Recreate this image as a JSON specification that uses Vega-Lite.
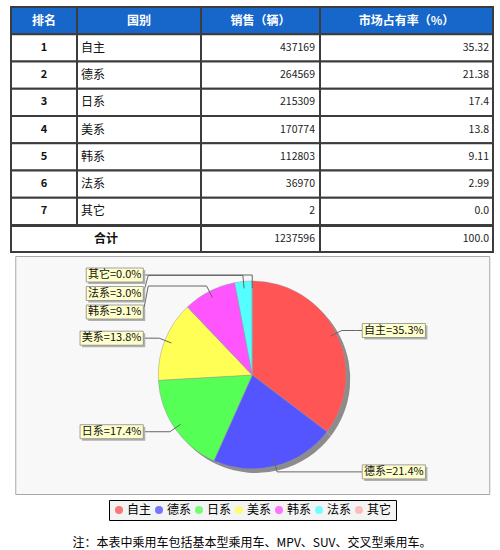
{
  "$schema": "https://vega.github.io/schema/vega-lite/v6.json",
  "background": "#ffffff",
  "padding": {"left": 10, "top": 6, "right": 8, "bottom": 0},
  "title": {
    "text": "注：本表中乘用车包括基本型乘用车、MPV、SUV、交叉型乘用车。",
    "orient": "bottom",
    "anchor": "middle",
    "offset": 17,
    "font": "Noto Sans CJK SC",
    "fontSize": 12,
    "fontWeight": "normal",
    "color": "#000"
  },
  "datasets": {
    "rows": [
      {"rank": 1, "name": "自主", "sales": 437169, "share": "35.32"},
      {"rank": 2, "name": "德系", "sales": 264569, "share": "21.38"},
      {"rank": 3, "name": "日系", "sales": 215309, "share": "17.4"},
      {"rank": 4, "name": "美系", "sales": 170774, "share": "13.8"},
      {"rank": 5, "name": "韩系", "sales": 112803, "share": "9.11"},
      {"rank": 6, "name": "法系", "sales": 36970, "share": "2.99"},
      {"rank": 7, "name": "其它", "sales": 2, "share": "0.0"}
    ]
  },
  "spacing": 2,
  "center": true,
  "vconcat": [
    {
      "spacing": -2,
      "vconcat": [
        {
          "spacing": 0,
          "bounds": "flush",
          "data": {"name": "rows"},
          "hconcat": [
            {
              "width": 66,
              "height": 218,
              "encoding": {"y": {"field": "rank", "type": "ordinal", "scale": {"domain": [0, 1, 2, 3, 4, 5, 6, 7], "paddingInner": 0, "paddingOuter": 0}, "axis": null}},
              "layer": [
                {
                  "data": {"values": [{"head": "排名"}]},
                  "encoding": {"y": {"datum": 0, "type": "ordinal"}},
                  "layer": [
                    {"mark": {"type": "rect", "fill": "#1766c9", "stroke": "#3c3c3c", "strokeWidth": 2}},
                    {"mark": {"type": "text", "color": "#fff", "fontWeight": "bold", "fontSize": 12}, "encoding": {"text": {"field": "head", "type": "nominal"}}}
                  ]
                },
                {"mark": {"type": "rect", "fill": "#fff", "stroke": "#3c3c3c", "strokeWidth": 2}},
                {"mark": {"type": "text", "fontWeight": "bold", "fontSize": 11, "color": "#111"}, "encoding": {"text": {"field": "rank", "type": "nominal"}}}
              ]
            },
            {
              "width": 124,
              "height": 218,
              "encoding": {"y": {"field": "rank", "type": "ordinal", "scale": {"domain": [0, 1, 2, 3, 4, 5, 6, 7], "paddingInner": 0, "paddingOuter": 0}, "axis": null}},
              "layer": [
                {
                  "data": {"values": [{"head": "国别"}]},
                  "encoding": {"y": {"datum": 0, "type": "ordinal"}},
                  "layer": [
                    {"mark": {"type": "rect", "fill": "#1766c9", "stroke": "#3c3c3c", "strokeWidth": 2}},
                    {"mark": {"type": "text", "color": "#fff", "fontWeight": "bold", "fontSize": 12}, "encoding": {"text": {"field": "head", "type": "nominal"}}}
                  ]
                },
                {"mark": {"type": "rect", "fill": "#fff", "stroke": "#3c3c3c", "strokeWidth": 2}},
                {
                  "mark": {"type": "text", "align": "left", "dx": 4, "fontSize": 12, "color": "#111"},
                  "encoding": {
                    "x": {"datum": 0, "type": "quantitative", "scale": {"domain": [0, 1]}, "axis": null},
                    "text": {"field": "name", "type": "nominal"}
                  }
                }
              ]
            },
            {
              "width": 119,
              "height": 218,
              "encoding": {"y": {"field": "rank", "type": "ordinal", "scale": {"domain": [0, 1, 2, 3, 4, 5, 6, 7], "paddingInner": 0, "paddingOuter": 0}, "axis": null}},
              "layer": [
                {
                  "data": {"values": [{"head": "销售（辆）"}]},
                  "encoding": {"y": {"datum": 0, "type": "ordinal"}},
                  "layer": [
                    {"mark": {"type": "rect", "fill": "#1766c9", "stroke": "#3c3c3c", "strokeWidth": 2}},
                    {"mark": {"type": "text", "color": "#fff", "fontWeight": "bold", "fontSize": 12}, "encoding": {"text": {"field": "head", "type": "nominal"}}}
                  ]
                },
                {"mark": {"type": "rect", "fill": "#fff", "stroke": "#3c3c3c", "strokeWidth": 2}},
                {
                  "mark": {"type": "text", "align": "right", "dx": -5, "fontSize": 10.5, "color": "#222"},
                  "encoding": {
                    "x": {"datum": 1, "type": "quantitative", "scale": {"domain": [0, 1]}, "axis": null},
                    "text": {"field": "sales", "type": "quantitative", "format": "d"}
                  }
                }
              ]
            },
            {
              "width": 173,
              "height": 218,
              "encoding": {"y": {"field": "rank", "type": "ordinal", "scale": {"domain": [0, 1, 2, 3, 4, 5, 6, 7], "paddingInner": 0, "paddingOuter": 0}, "axis": null}},
              "layer": [
                {
                  "data": {"values": [{"head": "市场占有率（%）"}]},
                  "encoding": {"y": {"datum": 0, "type": "ordinal"}},
                  "layer": [
                    {"mark": {"type": "rect", "fill": "#1766c9", "stroke": "#3c3c3c", "strokeWidth": 2}},
                    {"mark": {"type": "text", "color": "#fff", "fontWeight": "bold", "fontSize": 12}, "encoding": {"text": {"field": "head", "type": "nominal"}}}
                  ]
                },
                {"mark": {"type": "rect", "fill": "#fff", "stroke": "#3c3c3c", "strokeWidth": 2}},
                {
                  "mark": {"type": "text", "align": "right", "dx": -4, "fontSize": 10.5, "color": "#222"},
                  "encoding": {
                    "x": {"datum": 1, "type": "quantitative", "scale": {"domain": [0, 1]}, "axis": null},
                    "text": {"field": "share", "type": "nominal"}
                  }
                }
              ]
            }
          ]
        },
        {
          "spacing": 0,
          "bounds": "flush",
          "data": {"name": "rows"},
          "transform": [
            {"calculate": "toNumber(datum.share)", "as": "shareNum"},
            {"aggregate": [
              {"op": "sum", "field": "sales", "as": "totalSales"},
              {"op": "sum", "field": "shareNum", "as": "totalShare"}
            ]}
          ],
          "hconcat": [
            {
              "width": 190,
              "height": 26,
              "layer": [
                {"mark": {"type": "rect", "fill": "#fff", "stroke": "#3c3c3c", "strokeWidth": 2}},
                {"mark": {"type": "text", "text": "合计", "fontWeight": "bold", "fontSize": 12, "color": "#111"}}
              ]
            },
            {
              "width": 119,
              "height": 26,
              "layer": [
                {"mark": {"type": "rect", "fill": "#fff", "stroke": "#3c3c3c", "strokeWidth": 2}},
                {
                  "mark": {"type": "text", "align": "right", "dx": -5, "fontSize": 10.5, "color": "#222"},
                  "encoding": {
                    "x": {"datum": 1, "type": "quantitative", "scale": {"domain": [0, 1]}, "axis": null},
                    "text": {"field": "totalSales", "type": "quantitative", "format": "d"}
                  }
                }
              ]
            },
            {
              "width": 173,
              "height": 26,
              "layer": [
                {"mark": {"type": "rect", "fill": "#fff", "stroke": "#3c3c3c", "strokeWidth": 2}},
                {
                  "mark": {"type": "text", "align": "right", "dx": -4, "fontSize": 10.5, "color": "#222"},
                  "encoding": {
                    "x": {"datum": 1, "type": "quantitative", "scale": {"domain": [0, 1]}, "axis": null},
                    "text": {"field": "totalShare", "type": "quantitative", "format": ".1f"}
                  }
                }
              ]
            }
          ]
        }
      ]
    },
    {
      "width": 474,
      "height": 238,
      "view": {"fill": "#f8f8f8", "stroke": "#a8a8a8", "strokeWidth": 1},
      "data": {"name": "rows"},
      "transform": [
        {"joinaggregate": [{"op": "sum", "field": "sales", "as": "total"}]},
        {"window": [{"op": "sum", "field": "sales", "as": "cum"}], "sort": [{"field": "rank"}], "frame": [null, 0]},
        {"calculate": "2 * PI * (datum.cum - datum.sales / 2) / datum.total", "as": "mid"},
        {"calculate": "datum.mid > PI ? 'L' : 'R'", "as": "side"},
        {"calculate": "datum.side == 'L' ? -datum.mid : datum.mid", "as": "ord"},
        {"calculate": "datum.name + '=' + format(datum.sales / datum.total, '.1%')", "as": "label"},
        {"calculate": "100 * cos(datum.mid)", "as": "ey"},
        {"calculate": "100 * sin(datum.mid)", "as": "ex"},
        {"calculate": "87 * cos(datum.mid)", "as": "ay"},
        {"calculate": "87 * sin(datum.mid)", "as": "ax"},
        {"window": [{"op": "row_number", "as": "idx"}], "groupby": ["side"], "sort": [{"field": "ord"}]},
        {"calculate": "datum.ey + 18.5 * datum.idx", "as": "w"},
        {"window": [{"op": "min", "field": "w", "as": "z"}], "groupby": ["side"], "sort": [{"field": "ord"}], "frame": [null, 0]},
        {"calculate": "datum.z - 18.5 * datum.idx", "as": "ly"},
        {"calculate": "26 + 6.2 * (length(datum.label) - 2)", "as": "bw"},
        {"calculate": "datum.side == 'L' ? -109 : 110", "as": "edge"},
        {"calculate": "datum.side == 'L' ? -104 : 104", "as": "px"},
        {"calculate": "datum.side == 'L' ? datum.edge - datum.bw : datum.edge + datum.bw", "as": "far"},
        {"calculate": "(datum.edge + datum.far) / 2", "as": "bx"},
        {"calculate": "datum.ly + 7", "as": "btop"},
        {"calculate": "datum.ly - 7", "as": "bbot"}
      ],
      "layer": [
        {
          "mark": {"type": "arc", "outerRadius": 94, "fill": "#8c8c8c", "xOffset": 4, "yOffset": 4},
          "encoding": {
            "theta": {"field": "sales", "type": "quantitative", "stack": true},
            "order": {"field": "rank", "type": "quantitative"}
          }
        },
        {
          "mark": {"type": "arc", "outerRadius": 94, "stroke": "#999", "strokeWidth": 0.5},
          "encoding": {
            "theta": {"field": "sales", "type": "quantitative", "stack": true},
            "order": {"field": "rank", "type": "quantitative"},
            "color": {
              "field": "name",
              "type": "nominal",
              "scale": {
                "domain": ["自主", "德系", "日系", "美系", "韩系", "法系", "其它"],
                "range": ["#ff5555", "#5555ff", "#55ff55", "#ffff55", "#ff55ff", "#55ffff", "#ffafaf"]
              },
              "legend": {
                "orient": "bottom",
                "direction": "horizontal",
                "title": null,
                "symbolType": "circle",
                "symbolSize": 64,
                "symbolStrokeWidth": 0,
                "symbolOpacity": 0.8,
                "labelFont": "Noto Sans CJK SC",
                "labelFontSize": 12,
                "labelColor": "#000",
                "labelOffset": 2,
                "columnPadding": 1,
                "padding": 4,
                "offset": 5,
                "strokeColor": "#000",
                "fillColor": "#f4f4f4"
              }
            }
          }
        },
        {
          "mark": {"type": "rule", "color": "#666", "strokeWidth": 1},
          "encoding": {
            "x": {"field": "ax", "type": "quantitative", "scale": {"domain": [-237, 237]}, "axis": null},
            "y": {"field": "ay", "type": "quantitative", "scale": {"domain": [-119, 119]}, "axis": null},
            "x2": {"field": "ex"},
            "y2": {"field": "ey"}
          }
        },
        {
          "mark": {"type": "rule", "color": "#666", "strokeWidth": 1},
          "encoding": {
            "x": {"field": "ex", "type": "quantitative", "scale": {"domain": [-237, 237]}, "axis": null},
            "y": {"field": "ey", "type": "quantitative", "scale": {"domain": [-119, 119]}, "axis": null},
            "x2": {"field": "px"},
            "y2": {"field": "ey"}
          }
        },
        {
          "mark": {"type": "rule", "color": "#666", "strokeWidth": 1},
          "encoding": {
            "x": {"field": "px", "type": "quantitative", "scale": {"domain": [-237, 237]}, "axis": null},
            "y": {"field": "ey", "type": "quantitative", "scale": {"domain": [-119, 119]}, "axis": null},
            "x2": {"field": "edge"},
            "y2": {"field": "ly"}
          }
        },
        {
          "mark": {"type": "rect", "fill": "#b0b0b0", "xOffset": 2, "x2Offset": 2, "yOffset": 2, "y2Offset": 2},
          "encoding": {
            "x": {"field": "far", "type": "quantitative", "scale": {"domain": [-237, 237]}, "axis": null},
            "x2": {"field": "edge"},
            "y": {"field": "btop", "type": "quantitative", "scale": {"domain": [-119, 119]}, "axis": null},
            "y2": {"field": "bbot"}
          }
        },
        {
          "mark": {"type": "rect", "fill": "#ffffcc", "stroke": "#8a8a8a", "strokeWidth": 0.8},
          "encoding": {
            "x": {"field": "far", "type": "quantitative", "scale": {"domain": [-237, 237]}, "axis": null},
            "x2": {"field": "edge"},
            "y": {"field": "btop", "type": "quantitative", "scale": {"domain": [-119, 119]}, "axis": null},
            "y2": {"field": "bbot"}
          }
        },
        {
          "mark": {"type": "text", "font": "Noto Sans CJK SC", "fontSize": 11, "color": "#111", "baseline": "middle"},
          "encoding": {
            "x": {"field": "bx", "type": "quantitative", "scale": {"domain": [-237, 237]}, "axis": null},
            "y": {"field": "ly", "type": "quantitative", "scale": {"domain": [-119, 119]}, "axis": null},
            "text": {"field": "label", "type": "nominal"}
          }
        }
      ]
    }
  ],
  "config": {
    "view": {"stroke": null},
    "font": "Noto Sans CJK SC",
    "text": {"font": "Noto Sans CJK SC", "baseline": "middle"},
    "axis": {"disable": true},
    "legend": {"layout": {"bottom": {"anchor": "middle"}}}
  }
}
